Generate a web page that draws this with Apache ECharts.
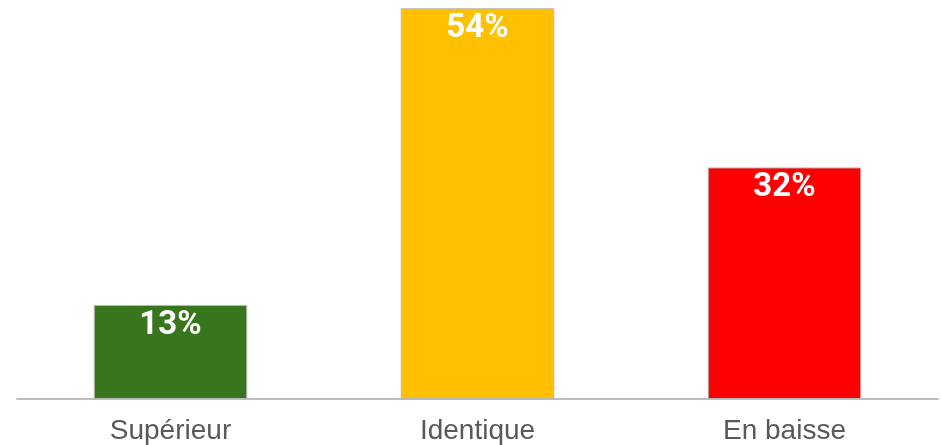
<!DOCTYPE html>
<html><head><meta charset="utf-8">
<script src="https://cdn.jsdelivr.net/npm/echarts@6/dist/echarts.min.js"></script>
<style>html,body{margin:0;padding:0;background:#fff}#c{width:941px;height:445px}</style>
</head><body><div id="c"></div>
<script>
const categories = ["Supérieur", "Identique", "En baisse"];
const values = [13, 54, 32];
const colors = ["#38761d", "#ffc000", "#ff0000"];

const chart = echarts.init(document.getElementById('c'));
chart.setOption({
  animation: false,
  grid: {left: 17, right: 3, top: 1, bottom: 46, containLabel: false},
  xAxis: {
    type: 'category', data: categories,
    axisLine: {lineStyle: {color: '#bdbdbd', width: 2}},
    axisTick: {show: false},
    axisLabel: {color: '#595959', fontSize: 28, fontFamily: 'Liberation Sans, Arial, sans-serif', margin: 18}
  },
  yAxis: {type: 'value', min: 0, max: 55, show: false, splitLine: {show: false}},
  series: [{
    type: 'bar', barWidth: '50%',
    data: values.map((v, i) => ({value: v, itemStyle: {color: colors[i]}})),
    itemStyle: {borderColor: '#b8b8b8', borderWidth: 1},
    label: {show: true, position: 'insideTop', distance: 4, color: '#fff', fontWeight: 'bold',
      fontSize: 33, fontFamily: 'Roboto, Arial, sans-serif', formatter: p => p.value + '%'}
  }]
});
</script></body></html>
